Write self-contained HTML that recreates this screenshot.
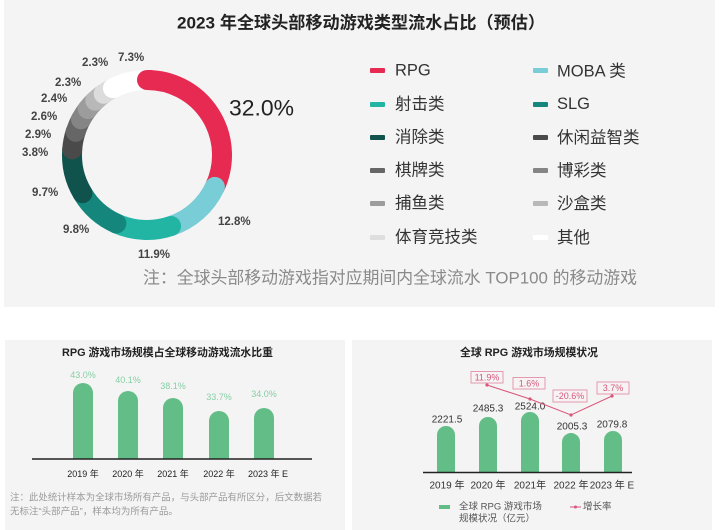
<!DOCTYPE html>
<html>
<head>
<meta charset="utf-8">
<style>
  html, body { margin:0; padding:0; background:#ffffff; }
  svg { display:block; font-family:"Liberation Sans","Noto Sans CJK SC",sans-serif; }
</style>
</head>
<body>
<svg width="720" height="530" viewBox="0 0 720 530" xmlns="http://www.w3.org/2000/svg">
  <!-- panels -->
  <rect x="0" y="0" width="720" height="530" fill="#ffffff"/>
  <rect x="4" y="0" width="711" height="307" fill="#f4f4f4"/>
  <rect x="5" y="340" width="340" height="190" fill="#f4f4f4"/>
  <rect x="352" y="340" width="360" height="190" fill="#f4f4f4"/>

  <!-- Title -->
  <text x="177" y="23" dominant-baseline="central" font-size="17" font-weight="bold" fill="#222" textLength="368" lengthAdjust="spacingAndGlyphs">2023 年全球头部移动游戏类型流水占比（预估）</text>

  <!-- Donut -->
  <g fill="none" stroke-width="20" stroke-linecap="round">
    <path d="M147,80 A75,75 0 0 1 214.86,186.93" stroke="#e62a52"/>
    <path d="M214.86,186.93 A75,75 0 0 1 171.07,226.03" stroke="#78cdd7"/>
    <path d="M171.07,226.03 A75,75 0 0 1 116.35,223.45" stroke="#22b5a4"/>
    <path d="M116.35,223.45 A75,75 0 0 1 82.45,193.18" stroke="#14867c"/>
    <path d="M82.45,193.18 A75,75 0 0 1 72.21,149.35" stroke="#10524c"/>
    <path d="M72.21,149.35 A75,75 0 0 1 75.67,131.82" stroke="#4a4a4a"/>
    <path d="M75.67,131.82 A75,75 0 0 1 81.04,119.28" stroke="#666666"/>
    <path d="M81.04,119.28 A75,75 0 0 1 87.73,109.03" stroke="#858585"/>
    <path d="M87.73,109.03 A75,75 0 0 1 95.30,100.67" stroke="#9c9c9c"/>
    <path d="M95.30,100.67 A75,75 0 0 1 103.70,93.76" stroke="#b8b8b8"/>
    <path d="M103.70,93.76 A75,75 0 0 1 112.95,88.17" stroke="#dcdcdc"/>
    <path d="M112.95,88.17 A75,75 0 0 1 146.06,80.01" stroke="#ffffff"/>
    <path d="M147,80 A75,75 0 0 1 149.62,80.05" stroke="#e62a52"/>
  </g>

  <!-- Donut labels -->
  <g font-size="11.5" font-weight="bold" fill="#444" dominant-baseline="central">
    <text x="118" y="58">7.3%</text>
    <text x="82" y="63">2.3%</text>
    <text x="55" y="83">2.3%</text>
    <text x="41" y="99">2.4%</text>
    <text x="31" y="117">2.6%</text>
    <text x="25" y="135">2.9%</text>
    <text x="22" y="153">3.8%</text>
    <text x="32" y="193">9.7%</text>
    <text x="63" y="230">9.8%</text>
    <text x="138" y="255">11.9%</text>
    <text x="218" y="222">12.8%</text>
  </g>
  <text x="229" y="108" dominant-baseline="central" font-size="22" fill="#222" textLength="65" lengthAdjust="spacingAndGlyphs">32.0%</text>

  <!-- Legend -->
  <g font-size="16.5" fill="#333" dominant-baseline="central">
    <rect x="370" y="68" width="15" height="5" rx="1" fill="#e62a52"/>
    <text x="395" y="70.5">RPG</text>
    <rect x="370" y="102" width="15" height="5" rx="1" fill="#22b5a4"/>
    <text x="395" y="104.5">射击类</text>
    <rect x="370" y="135" width="15" height="5" rx="1" fill="#10524c"/>
    <text x="395" y="137.5">消除类</text>
    <rect x="370" y="168" width="15" height="5" rx="1" fill="#666666"/>
    <text x="395" y="170.5">棋牌类</text>
    <rect x="370" y="201" width="15" height="5" rx="1" fill="#9c9c9c"/>
    <text x="395" y="203.5">捕鱼类</text>
    <rect x="370" y="235" width="15" height="5" rx="1" fill="#dedede"/>
    <text x="395" y="237.5">体育竞技类</text>

    <rect x="533" y="68" width="15" height="5" rx="1" fill="#78cdd7"/>
    <text x="557" y="71.5">MOBA 类</text>
    <rect x="533" y="102" width="15" height="5" rx="1" fill="#14867c"/>
    <text x="557" y="104">SLG</text>
    <rect x="533" y="135" width="15" height="5" rx="1" fill="#4a4a4a"/>
    <text x="557" y="138">休闲益智类</text>
    <rect x="533" y="168" width="15" height="5" rx="1" fill="#858585"/>
    <text x="557" y="171">博彩类</text>
    <rect x="533" y="201" width="15" height="5" rx="1" fill="#b8b8b8"/>
    <text x="557" y="204">沙盒类</text>
    <rect x="533" y="235" width="15" height="5" rx="1" fill="#ffffff"/>
    <text x="557" y="238">其他</text>
  </g>

  <!-- Note -->
  <text x="143" y="278" dominant-baseline="central" font-size="17" fill="#8a8a8a" textLength="494" lengthAdjust="spacingAndGlyphs">注：全球头部移动游戏指对应期间内全球流水 TOP100 的移动游戏</text>

  <!-- Bottom-left chart -->
  <text x="167.5" y="353" text-anchor="middle" dominant-baseline="central" font-size="11" font-weight="bold" fill="#222" textLength="211" lengthAdjust="spacingAndGlyphs">RPG 游戏市场规模占全球移动游戏流水比重</text>
  <g fill="#63bd86">
    <path d="M73,459 V393 A10,10 0 0 1 93,393 V459 Z"/>
    <path d="M118,459 V401 A10,10 0 0 1 138,401 V459 Z"/>
    <path d="M163,459 V408 A10,10 0 0 1 183,408 V459 Z"/>
    <path d="M209,459 V421 A10,10 0 0 1 229,421 V459 Z"/>
    <path d="M254,459 V418 A10,10 0 0 1 274,418 V459 Z"/>
  </g>
  <line x1="32" y1="459" x2="312" y2="459" stroke="#222" stroke-width="1.5"/>
  <g font-size="9" fill="#86cfa6" text-anchor="middle" dominant-baseline="central">
    <text x="83" y="375">43.0%</text>
    <text x="128" y="380">40.1%</text>
    <text x="173" y="386">38.1%</text>
    <text x="219" y="397">33.7%</text>
    <text x="264" y="394">34.0%</text>
  </g>
  <g font-size="9" fill="#222" text-anchor="middle" dominant-baseline="central">
    <text x="83" y="474">2019 年</text>
    <text x="128" y="474">2020 年</text>
    <text x="173" y="474">2021 年</text>
    <text x="219" y="474">2022 年</text>
    <text x="268" y="474">2023 年 E</text>
  </g>
  <g font-size="9.5" fill="#9a9a9a" dominant-baseline="central">
    <text x="10" y="498" textLength="312" lengthAdjust="spacingAndGlyphs">注：此处统计样本为全球市场所有产品，与头部产品有所区分，后文数据若</text>
    <text x="10" y="512">无标注“头部产品”，样本均为所有产品。</text>
  </g>

  <!-- Bottom-right chart -->
  <text x="529" y="353" text-anchor="middle" dominant-baseline="central" font-size="11" font-weight="bold" fill="#222" textLength="138" lengthAdjust="spacingAndGlyphs">全球 RPG 游戏市场规模状况</text>
  <g fill="#63bd86">
    <path d="M437,472 V435 A9,9 0 0 1 455,435 V472 Z"/>
    <path d="M479,472 V426 A9,9 0 0 1 497,426 V472 Z"/>
    <path d="M521,472 V421 A9,9 0 0 1 539,421 V472 Z"/>
    <path d="M562,472 V442 A9,9 0 0 1 580,442 V472 Z"/>
    <path d="M604,472 V440 A9,9 0 0 1 622,440 V472 Z"/>
  </g>
  <line x1="423" y1="472.5" x2="632" y2="472.5" stroke="#222" stroke-width="1.5"/>
  <g font-size="10" fill="#333" text-anchor="middle" dominant-baseline="central">
    <text x="447" y="420">2221.5</text>
    <text x="488" y="409">2485.3</text>
    <text x="530" y="407">2524.0</text>
    <text x="572" y="427">2005.3</text>
    <text x="612" y="425">2079.8</text>
  </g>
  <!-- growth line -->
  <polyline points="487,385 530,399 571,415 612,396" fill="none" stroke="#d9557a" stroke-width="1"/>
  <g fill="#d9557a">
    <circle cx="487" cy="385" r="1.6"/>
    <circle cx="530" cy="399" r="1.6"/>
    <circle cx="571" cy="415" r="1.6"/>
    <circle cx="612" cy="396" r="1.6"/>
  </g>
  <g fill="#f7f3f4" stroke="#e39ab0" stroke-width="1">
    <rect x="471" y="371.5" width="32" height="11.5"/>
    <rect x="513" y="377.5" width="32" height="11.5"/>
    <rect x="553" y="390" width="34" height="12"/>
    <rect x="597" y="382" width="32" height="12"/>
  </g>
  <g font-size="9" fill="#d4587a" text-anchor="middle" dominant-baseline="central">
    <text x="487" y="377.5">11.9%</text>
    <text x="529" y="383.5">1.6%</text>
    <text x="570" y="396">-20.6%</text>
    <text x="613" y="388">3.7%</text>
  </g>
  <g font-size="10" fill="#333" text-anchor="middle" dominant-baseline="central">
    <text x="447" y="486">2019 年</text>
    <text x="488" y="486">2020 年</text>
    <text x="530" y="486">2021年</text>
    <text x="571" y="486">2022 年</text>
    <text x="612" y="486">2023 年 E</text>
  </g>
  <!-- legend -->
  <rect x="439" y="505" width="11" height="4" fill="#63bd86"/>
  <g font-size="9.5" fill="#555" dominant-baseline="central">
    <text x="459" y="507">全球 RPG 游戏市场</text>
    <text x="459" y="519">规模状况（亿元）</text>
    <text x="583" y="507">增长率</text>
  </g>
  <line x1="570" y1="507" x2="581" y2="507" stroke="#d9557a" stroke-width="1"/>
  <circle cx="575.5" cy="507" r="1.5" fill="#d9557a"/>
</svg>
</body>
</html>
